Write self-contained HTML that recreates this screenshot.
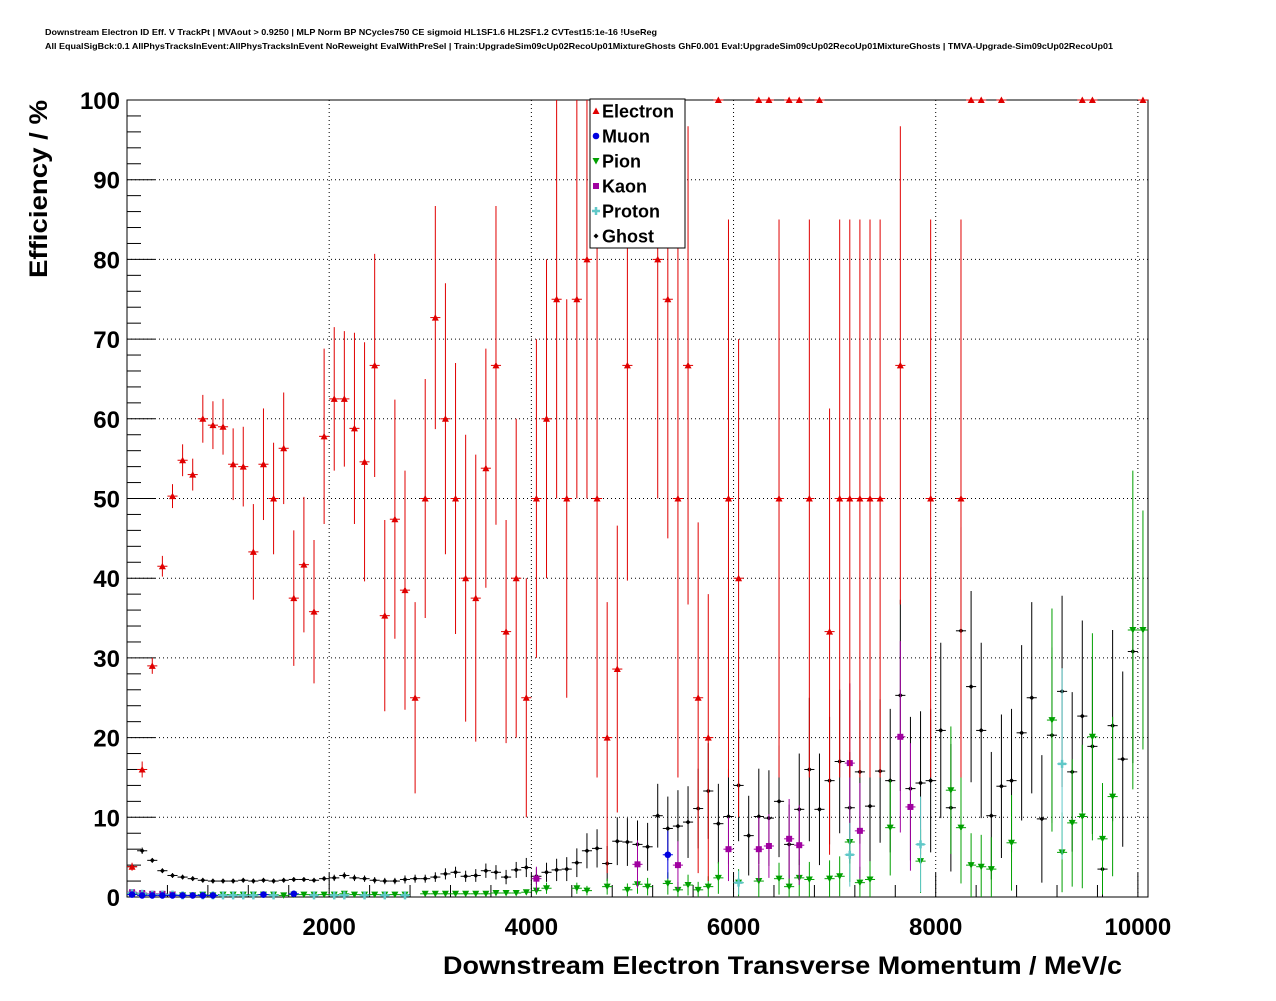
<!DOCTYPE html>
<html><head><meta charset="utf-8">
<style>
html,body{margin:0;padding:0;background:#fff;}
body{width:1276px;height:996px;overflow:hidden;font-family:"Liberation Sans",sans-serif;}
</style></head>
<body>
<svg id="chart" width="1276" height="996" xmlns="http://www.w3.org/2000/svg" style="font-family:'Liberation Sans',sans-serif">
<text x="45" y="35" font-size="8.5" font-weight="bold" textLength="612" lengthAdjust="spacingAndGlyphs">Downstream Electron ID Eff. V TrackPt | MVAout &gt; 0.9250 | MLP Norm BP NCycles750 CE sigmoid HL1SF1.6 HL2SF1.2 CVTest15:1e-16 !UseReg</text>
<text x="45" y="49" font-size="8.5" font-weight="bold" textLength="1068" lengthAdjust="spacingAndGlyphs">All EqualSigBck:0.1 AllPhysTracksInEvent:AllPhysTracksInEvent NoReweight EvalWithPreSel | Train:UpgradeSim09cUp02RecoUp01MixtureGhosts GhF0.001 Eval:UpgradeSim09cUp02RecoUp01MixtureGhosts | TMVA-Upgrade-Sim09cUp02RecoUp01</text>
<g id="grid"></g>
<g id="axes"></g>
<g id="marks"></g>
<text transform="translate(47,278) rotate(-90)" font-size="25" font-weight="bold" textLength="178" lengthAdjust="spacingAndGlyphs">Efficiency / %</text>
<text x="443" y="974" font-size="25" font-weight="bold" textLength="679" lengthAdjust="spacingAndGlyphs">Downstream Electron Transverse Momentum / MeV/c</text>
<g id="legend"></g>
</svg>
<script>
// ---- data ----
const xTicks = [2000,4000,6000,8000,10000];
const yTicks = [0,10,20,30,40,50,60,70,80,90,100];
const binWidth = 100;

const electronBins = [0,1,2,3,4,5,6,7,8,9,10,11,12,13,14,15,16,17,18,19,20,21,22,23,24,25,26,27,28,29,30,31,32,33,34,35,36,37,38,39,40,41,42,43,44,45,46,47,48,49,52,53,54,55,56,57,58,59,60,62,63,64,65,66,67,68,69,70,71,72,73,74,76,79,82,83,84,86,94,95,100];
const electronVals = [3.8,16,29,41.5,50.3,54.8,53,60,59.2,59,54.3,54,43.3,54.3,50,56.3,37.5,41.7,35.8,57.8,62.5,62.5,58.8,54.6,66.7,35.3,47.4,38.5,25,50,72.7,60,50,40,37.5,53.8,66.7,33.3,40,25,50,60,75,50,75,80,50,20,28.6,66.7,80,75,50,66.7,25,20,100,50,40,100,100,50,100,100,50,100,33.3,50,50,50,50,50,66.7,50,50,100,100,100,100,100,100];
const electronErrs = [0.5,1,1,1.3,1.5,2,2,3,3,3.5,4.5,5,6,7,7,7,8.5,8.5,9,11,9,8.5,12,15,14,12,15,15,12,15,14,17,17,18,18,15,20,14,20,15,20,20,25,25,25,30,35,17,18,27,30,30,35,30,22,18,0,35,30,0,0,35,0,0,35,0,28,35,35,35,35,35,30,35,35,0,0,0,0,0,0];

const ghostVals = [3.8,5.8,4.6,3.3,2.7,2.5,2.3,2.1,2.0,2.0,2.0,2.1,2.0,2.1,2.0,2.1,2.2,2.2,2.1,2.3,2.4,2.7,2.4,2.3,2.1,2.0,2.0,2.2,2.3,2.3,2.5,2.9,3.1,2.6,2.7,3.3,3.1,2.5,3.4,3.7,2.6,3.1,3.4,3.5,4.3,5.8,6.1,4.2,7.0,6.9,6.6,6.3,10.2,8.6,8.9,9.4,11.1,13.3,9.2,10.1,14,7.7,10.1,9.9,12.0,6.6,11.0,16,11,14.6,17.0,11.2,15.7,11.4,15.8,14.6,25.3,13.6,14.3,14.6,20.9,11.2,33.4,26.4,20.9,10.2,13.9,14.6,20.6,25.0,9.8,20.3,25.8,15.7,22.7,18.9,3.5,21.5,17.3,30.8];
const ghostErrs = [0.4,0.4,0.3,0.3,0.3,0.3,0.3,0.3,0.3,0.3,0.3,0.3,0.3,0.3,0.3,0.3,0.3,0.3,0.3,0.3,0.4,0.4,0.4,0.4,0.4,0.4,0.4,0.5,0.5,0.5,0.6,0.7,0.7,0.7,0.8,0.9,0.9,0.9,1.0,1.2,1.0,1.2,1.4,1.5,1.8,2.2,2.4,2.2,3,3,3,3,4,4,4.5,4.5,5,6,5,6,7,5,6,6,7,5,7,9,7,8,9,7,9,7,9,9,12,9,9,9,11,8,13,12,11,8,9,9,11,12,8,11,12,10,12,11,4,12,11,14];

const pionBins = [0,1,2,3,4,5,6,7,8,9,10,11,12,13,14,15,16,17,18,19,20,21,22,23,24,25,26,27,29,30,31,32,33,34,35,36,37,38,39,40,41,44,45,47,49,50,51,53,54,55,56,57,58,60,62,64,65,66,67,69,70,71,72,73,75,78,81,82,83,84,85,87,91,92,93,94,95,96,97,99,100];
const pionVals = [0.4,0.3,0.3,0.3,0.3,0.2,0.2,0.3,0.2,0.3,0.3,0.3,0.3,0.3,0.3,0.2,0.3,0.3,0.3,0.3,0.3,0.4,0.3,0.3,0.3,0.3,0.3,0.3,0.4,0.4,0.4,0.4,0.4,0.4,0.4,0.5,0.5,0.5,0.6,0.8,1.1,1.1,0.8,1.3,0.9,1.6,1.3,1.7,0.9,1.5,0.9,1.3,2.4,1.8,2.0,2.3,1.3,2.4,2.2,2.3,2.6,6.9,1.8,2.2,8.7,4.5,13.4,8.7,4.0,3.8,3.5,6.8,22.2,5.6,9.3,10.1,20.1,7.3,12.6,33.5,33.5];
const pionErrs = [0.2,0.1,0.1,0.1,0.1,0.1,0.1,0.1,0.1,0.1,0.1,0.1,0.1,0.1,0.1,0.1,0.1,0.1,0.1,0.1,0.1,0.2,0.1,0.1,0.1,0.1,0.1,0.1,0.2,0.2,0.2,0.2,0.2,0.2,0.2,0.3,0.3,0.3,0.3,0.5,0.7,0.7,0.6,1,0.8,1.2,1.1,1.4,1,1.3,1,1.3,2,1.7,2,2,1.5,2.3,2.2,2.3,2.5,5,2,2.3,6,4,8,7,4,4,4,6,14,5,8,9,13,7,10,20,15];

const kaonBins = [0,1,2,3,4,40,50,54,59,62,63,65,66,71,72,76,77];
const kaonVals = [0.6,0.5,0.4,0.4,0.3,2.3,4.1,4.0,6.0,6.0,6.4,7.3,6.5,16.8,8.3,20.1,11.3];
const kaonErrs = [0.2,0.2,0.2,0.2,0.2,1.5,3,3,4,4,4,5,5,10,6,12,8];

const muonBins = [0,1,2,3,4,5,6,7,8,13,16,53];
const muonVals = [0.3,0.2,0.2,0.2,0.2,0.2,0.2,0.2,0.2,0.3,0.4,5.3];
const muonErrs = [0.1,0.1,0.1,0.1,0.1,0.1,0.1,0.1,0.1,0.2,0.3,3];

const protonBins = [0,1,2,3,4,5,7,8,9,10,11,12,14,18,20,21,23,25,27,60,71,78,92];
const protonVals = [0.5,0.4,0.3,0.3,0.3,0.2,0.2,0.2,0.2,0.2,0.2,0.2,0.2,0.2,0.2,0.2,0.2,0.2,0.2,1.8,5.3,6.6,16.7];
const protonErrs = [0.2,0.2,0.1,0.1,0.1,0.1,0.1,0.1,0.1,0.1,0.1,0.1,0.1,0.1,0.1,0.1,0.1,0.1,0.1,1.5,4,6,12];

const legendLabels = ["Electron","Muon","Pion","Kaon","Proton","Ghost"];

// ---- axes ----
const L=127, R=1148, T=100, B=897, XMAX=10100;
const X = v => L + (v/XMAX)*(R-L);
const Y = v => B - (v/100)*(B-T);
const NS="http://www.w3.org/2000/svg";
function mk(tag, parent, attrs){const e=document.createElementNS(NS,tag);for(const k in attrs)e.setAttribute(k,attrs[k]);parent.appendChild(e);return e;}
const grid=document.getElementById('grid'), axes=document.getElementById('axes'), marks=document.getElementById('marks'), legend=document.getElementById('legend');

xTicks.forEach(t=>{
  const g=mk('line',grid,{x1:X(t),x2:X(t),y1:T,y2:B,stroke:'#000','stroke-width':1,'stroke-dasharray':'1,3'});
  
  
  const lb=mk('text',axes,{x:X(t),y:935,'text-anchor':'middle','font-size':24,'font-weight':'bold'});
  lb.textContent=t;
  
  
});
yTicks.forEach(t=>{
  if(t>0&&t<100){
    const g=mk('line',grid,{x1:L,x2:R,y1:Y(t),y2:Y(t),stroke:'#000','stroke-width':1,'stroke-dasharray':'1,3'});
    
    
  }
  const lb=mk('text',axes,{x:120,y:Y(t)+9,'text-anchor':'end','font-size':24,'font-weight':'bold'});
  lb.textContent=t;
  
  
});
for(let v=0;v<=XMAX;v+=400){const len=(v%2000===0)?24:12;mk('line',axes,{x1:X(v),x2:X(v),y1:B,y2:B-len,stroke:'#000'});}
for(let v=0;v<=100;v+=2){const len=(v%10===0)?28:14;mk('line',axes,{x1:L,x2:L+len,y1:Y(v),y2:Y(v),stroke:'#000'});}
const frame=mk('rect',axes,{x:L,y:T,width:R-L,height:B-T,fill:'none',stroke:'#000','stroke-width':1});



function marker(parent,type,cx,cy,color){
  if(type==='tu') return mk('polygon',parent,{points:`${cx-3.5},${cy+3} ${cx+3.5},${cy+3} ${cx},${cy-3.5}`,fill:color});
  if(type==='td') return mk('polygon',parent,{points:`${cx-3.5},${cy-3} ${cx+3.5},${cy-3} ${cx},${cy+3.5}`,fill:color});
  if(type==='c') return mk('circle',parent,{cx:cx,cy:cy,r:3.3,fill:color});
  if(type==='s') return mk('rect',parent,{x:cx-3,y:cy-3,width:6,height:6,fill:color});
  if(type==='p') return mk('path',parent,{d:`M${cx-4},${cy}H${cx+4}M${cx},${cy-4}V${cy+4}`,stroke:color,'stroke-width':2.5});
  return mk('polygon',parent,{points:`${cx-2.5},${cy} ${cx},${cy-2.5} ${cx+2.5},${cy} ${cx},${cy+2.5}`,fill:color});
}
function drawSeries(name,bins,vals,errs,color,type){
  const g=mk('g',marks,{});
  
  
  vals.forEach((v,i)=>{
    const b=bins?bins[i]:i;
    const cx=X((b+0.5)*binWidth), cy=Y(v);
    const e=errs[i];
    if(e>0) mk('line',g,{x1:cx,x2:cx,y1:Y(Math.min(100,v+e)),y2:Y(Math.max(0,v-e)),stroke:color,'stroke-width':1});
    mk('line',g,{x1:X(b*binWidth),x2:X((b+1)*binWidth),y1:cy,y2:cy,stroke:color,'stroke-width':1});
    const m=marker(g,type,cx,cy,color);
    
    
  });
}
drawSeries('ghost',null,ghostVals,ghostErrs,'#000','d');
drawSeries('pion',pionBins,pionVals,pionErrs,'#00a000','td');
drawSeries('kaon',kaonBins,kaonVals,kaonErrs,'#a000a0','s');
drawSeries('proton',protonBins,protonVals,protonErrs,'#60c8c8','p');
drawSeries('muon',muonBins,muonVals,muonErrs,'#0000e0','c');
drawSeries('electron',electronBins,electronVals,electronErrs,'#e00000','tu');

const lbox=mk('rect',legend,{x:590,y:99,width:95,height:149,fill:'#fff',stroke:'#000'});


const lcol=['#e00000','#0000e0','#00a000','#a000a0','#60c8c8','#000'];
const ltyp=['tu','c','td','s','p','d'];
legendLabels.forEach((s,i)=>{
  const y=111+i*25;
  marker(legend,ltyp[i],596,y,lcol[i]);
  const t=mk('text',legend,{x:602,y:y+6.5,'font-size':18,'font-weight':'bold'});
  t.textContent=s;
  
  
});
</script>
</body></html>
